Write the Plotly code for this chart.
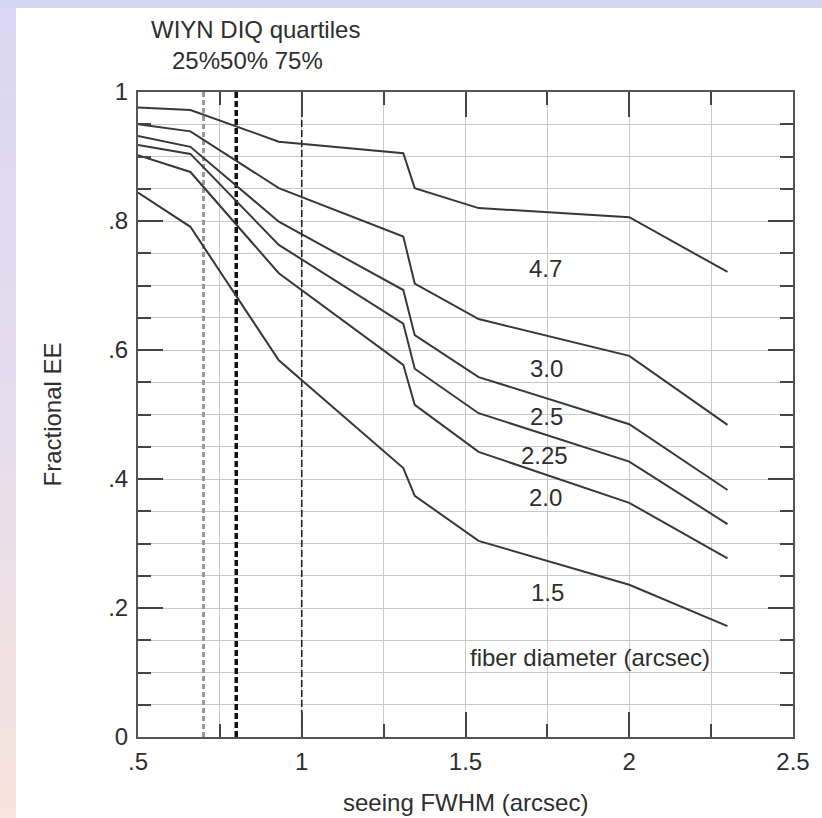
import base64
import plotly.graph_objects as go

# ---- data ----
seeing = [0.5, 0.66, 0.93, 1.31, 1.345, 1.54, 2.0, 2.3]
fiber_labels = ["4.7", "3.0", "2.5", "2.25", "2.0", "1.5"]
ee_47 = [0.976, 0.972, 0.923, 0.905, 0.851, 0.820, 0.806, 0.721]
ee_30 = [0.950, 0.939, 0.851, 0.776, 0.703, 0.648, 0.591, 0.484]
ee_25 = [0.932, 0.915, 0.799, 0.693, 0.623, 0.558, 0.485, 0.383]
ee_225 = [0.918, 0.904, 0.763, 0.641, 0.571, 0.502, 0.427, 0.330]
ee_20 = [0.902, 0.876, 0.719, 0.577, 0.515, 0.442, 0.363, 0.277]
ee_15 = [0.844, 0.791, 0.584, 0.417, 0.374, 0.304, 0.236, 0.172]
series = [ee_47, ee_30, ee_25, ee_225, ee_20, ee_15]

label_x = [1.744, 1.746, 1.746, 1.741, 1.744, 1.749]
label_y = [0.727, 0.572, 0.497, 0.437, 0.372, 0.224]

quartile_names = ["25%", "50%", "75%"]
quartile_x = [0.7, 0.8, 1.0]

x_tickvals = [0.5, 1, 1.5, 2, 2.5]
x_ticktext = [".5", "1", "1.5", "2", "2.5"]
y_tickvals = [0, 0.2, 0.4, 0.6, 0.8, 1]
y_ticktext = ["0", ".2", ".4", ".6", ".8", "1"]

FONT = "Liberation Sans, Arial, Helvetica, sans-serif"
INK = "#2e2e2e"
FS = 24

W, H = 822, 818
L, R, T, B = 138, 29, 92, 81
PW, PH = W - L - R, H - T - B


def px_x(p):
    return (p - L) / PW


def px_y(p):
    return ((H - B) - p) / PH


fig = go.Figure()

# quartile lines
q_styles = [
    dict(color="#9a9a9a", width=3, dash="5px,3px"),
    dict(color="#111111", width=3.5, dash="6px,3px"),
    dict(color="#222222", width=1.6, dash="7px,3px"),
]
for q, st in zip(quartile_x, q_styles):
    fig.add_trace(go.Scatter(x=[q, q], y=[0, 1], mode="lines", line=st,
                             hoverinfo="skip", showlegend=False))

for name, vals in zip(fiber_labels, series):
    fig.add_trace(go.Scatter(x=seeing, y=vals, mode="lines", name=name,
                             line=dict(color="#383838", width=2),
                             showlegend=False))

for name, lx, ly in zip(fiber_labels, label_x, label_y):
    fig.add_annotation(x=lx, y=ly, xref="x", yref="y", text=name, showarrow=False,
                       xanchor="center", yanchor="middle",
                       font=dict(family=FONT, size=FS, color=INK))

fig.add_annotation(x=1.881, y=0.124, xref="x", yref="y", text="fiber diameter (arcsec)",
                   showarrow=False, xanchor="center", yanchor="middle",
                   font=dict(family=FONT, size=FS, color=INK))

# header above the plot (paper coordinates)
fig.add_annotation(x=px_x(255), y=px_y(30), xref="paper", yref="paper",
                   text="WIYN DIQ quartiles", showarrow=False,
                   xanchor="center", yanchor="middle",
                   font=dict(family=FONT, size=FS, color=INK))
fig.add_annotation(x=px_x(247), y=px_y(60), xref="paper", yref="paper",
                   text=quartile_names[0] + quartile_names[1] + " " + quartile_names[2],
                   showarrow=False, xanchor="center", yanchor="middle",
                   font=dict(family=FONT, size=FS, color=INK))

# axis titles
fig.add_annotation(x=0.5, y=px_y(802), xref="paper", yref="paper",
                   text="seeing FWHM (arcsec)", showarrow=False,
                   xanchor="center", yanchor="middle",
                   font=dict(family=FONT, size=FS, color=INK))
fig.add_annotation(x=px_x(52), y=0.5, xref="paper", yref="paper",
                   text="Fractional EE", textangle=-90, showarrow=False,
                   xanchor="center", yanchor="middle",
                   font=dict(family=FONT, size=FS, color=INK))

# background gradient frame
svg = (
    f"<svg xmlns='http://www.w3.org/2000/svg' width='{W}' height='{H}' viewBox='0 0 {W} {H}' preserveAspectRatio='none'>"
    "<defs><linearGradient id='g' x1='0' y1='0' x2='0' y2='1'>"
    "<stop offset='0' stop-color='#d9d6f3'/><stop offset='0.5' stop-color='#e6dcee'/>"
    "<stop offset='1' stop-color='#f8e4dc'/></linearGradient></defs>"
    f"<rect width='{W}' height='{H}' fill='url(#g)'/>"
    f"<rect x='16' y='8' width='{W-16}' height='{H-8}' fill='white'/></svg>"
)
uri = "data:image/svg+xml;base64," + base64.b64encode(svg.encode()).decode()
fig.add_layout_image(source=uri, xref="paper", yref="paper",
                     x=-L / PW, y=1 + T / PH, sizex=W / PW, sizey=H / PH,
                     xanchor="left", yanchor="top", sizing="stretch", layer="below")

axis_common = dict(
    showline=True, linecolor="#555555", linewidth=2, mirror="allticks",
    ticks="inside", tickcolor="#444444", tickwidth=1.5, ticklen=25,
    showgrid=True, gridcolor="#c9c9c9", gridwidth=1,
    zeroline=False, tickfont=dict(family=FONT, size=FS, color=INK),
)

fig.update_xaxes(range=[0.5, 2.5], tickvals=x_tickvals, ticktext=x_ticktext,
                 ticklabelstandoff=2,
                 minor=dict(dtick=0.25, tick0=0.5, ticks="inside", ticklen=13,
                            tickcolor="#444444", showgrid=True, gridcolor="#c9c9c9"),
                 **axis_common)
fig.update_yaxes(range=[0, 1], tickvals=y_tickvals, ticktext=y_ticktext,
                 ticklabelstandoff=3,
                 minor=dict(dtick=0.05, tick0=0, ticks="inside", ticklen=13,
                            tickcolor="#444444", showgrid=True, gridcolor="#c9c9c9"),
                 **axis_common)

fig.update_layout(width=W, height=H, autosize=False,
                  margin=dict(l=L, r=R, t=T, b=B, pad=0),
                  paper_bgcolor="white", plot_bgcolor="rgba(0,0,0,0)",
                  font=dict(family=FONT, size=FS, color=INK),
                  showlegend=False)

fig.write_html("out.html")
